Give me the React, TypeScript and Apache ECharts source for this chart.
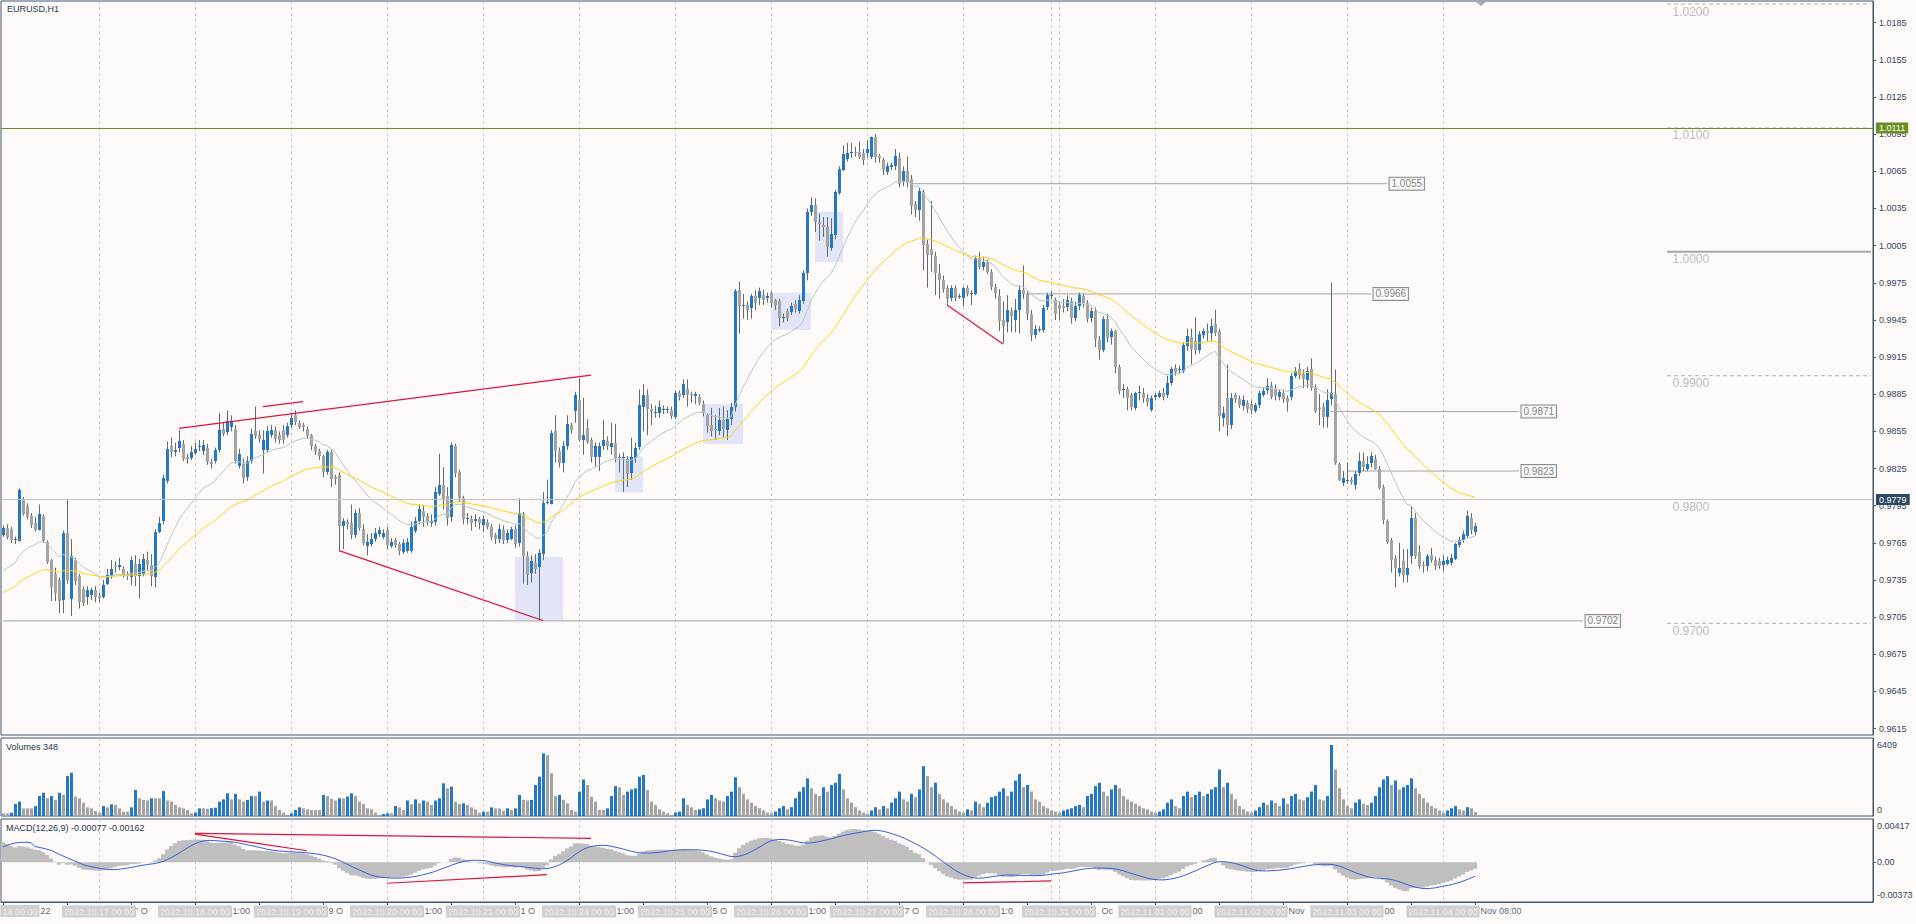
import React, { useEffect, useRef } from "react";
import * as echarts from "echarts";

// ---------- data (prices in 1/10000, e.g. 9779 = 0.9779) ----------
// hourly bars per trading day: [open, high, low, close, tickVolume]
const dayDates = ["2022.10.14", "2022.10.17", "2022.10.18", "2022.10.19", "2022.10.20", "2022.10.21", "2022.10.24", "2022.10.25", "2022.10.26", "2022.10.27", "2022.10.28", "2022.10.31", "2022.11.01", "2022.11.02", "2022.11.03", "2022.11.04"];
// visible part of the first date box (it is cut by the chart's left edge)
const firstBoxVisible = "14 00:00";
// visible remainder of the time-scale label that follows each day's date box
const timeFragments = ["22", "' O", "1:00", "9 O", "1:00", "1 O", "1:00", "5 O", "1:00", "7 O", "1:0", ". Oc", "00", "Nov", "00", "Nov 08:00"];

const oct14 = [[9771,9779,9770,9777,240],[9777,9780,9768,9770,240],[9776,9778,9765,9767,300],[9767,9770,9764,9768,1080],[9767,9809,9766,9808,1300],[9800,9802,9787,9789,690],[9795,9797,9784,9786,690],[9787,9789,9777,9780,690],[9781,9786,9774,9775,900],[9775,9796,9775,9788,1800],[9787,9788,9765,9767,2100],[9766,9767,9748,9750,1600],[9751,9752,9718,9729,1800],[9740,9745,9718,9725,1450],[9735,9737,9708,9718,2100],[9719,9775,9708,9773,1900],[9773,9800,9732,9735,3600],[9719,9768,9706,9754,3900],[9751,9753,9731,9734,1750],[9738,9740,9712,9717,1600],[9728,9730,9714,9717,1200],[9721,9730,9715,9727,780],[9723,9729,9719,9727,690],[9727,9730,9717,9721,450]];
const oct17 = [[9722,9725,9717,9720,300],[9721,9735,9720,9731,900],[9732,9744,9731,9739,780],[9738,9751,9736,9744,1050],[9746,9750,9741,9745,990],[9745,9753,9743,9747,690],[9744,9746,9737,9739,390],[9740,9742,9735,9738,390],[9737,9754,9731,9751,780],[9748,9755,9730,9738,2350],[9738,9752,9720,9748,1600],[9740,9756,9738,9752,1450],[9751,9758,9743,9747,1400],[9747,9756,9730,9738,1600],[9738,9776,9729,9774,1600],[9774,9786,9773,9781,1600],[9782,9820,9780,9817,2250],[9815,9847,9813,9841,1400],[9843,9850,9834,9838,1300],[9838,9846,9835,9840,1000],[9841,9856,9838,9847,780],[9845,9848,9831,9833,690],[9834,9837,9829,9832,540],[9833,9843,9832,9838,240]];
const oct18 = [[9838,9846,9836,9841,300],[9842,9848,9839,9843,690],[9839,9848,9836,9844,690],[9842,9845,9828,9831,650],[9830,9833,9825,9828,700],[9831,9842,9829,9840,750],[9840,9870,9838,9856,1300],[9857,9862,9851,9853,1500],[9854,9872,9852,9863,2050],[9858,9868,9855,9863,1500],[9857,9860,9829,9831,2000],[9827,9841,9825,9837,1500],[9829,9833,9813,9818,1300],[9818,9835,9815,9831,1450],[9831,9857,9829,9853,1800],[9855,9875,9849,9851,1800],[9852,9856,9846,9849,2200],[9840,9856,9821,9848,1300],[9840,9859,9838,9855,1400],[9852,9860,9850,9856,1400],[9856,9859,9846,9849,900],[9852,9855,9845,9848,540],[9856,9860,9845,9848,300],[9852,9862,9850,9859,100]];
const oct19 = [[9860,9870,9858,9866,240],[9868,9872,9860,9862,540],[9862,9864,9857,9859,780],[9860,9862,9855,9858,690],[9857,9859,9849,9851,600],[9852,9853,9840,9843,540],[9843,9845,9836,9839,540],[9839,9841,9832,9835,540],[9835,9836,9818,9822,1900],[9822,9840,9820,9838,1800],[9838,9840,9810,9816,1550],[9818,9820,9812,9816,1400],[9820,9822,9759,9779,1600],[9779,9785,9760,9783,1600],[9782,9784,9776,9780,1750],[9781,9796,9768,9771,2050],[9771,9792,9769,9789,1800],[9789,9793,9775,9777,1300],[9776,9780,9763,9765,1080],[9763,9772,9755,9766,690],[9764,9773,9762,9768,600],[9768,9777,9766,9773,300],[9772,9778,9770,9775,100],[9770,9776,9768,9773,180]];
const oct20 = [[9775,9778,9760,9763,240],[9763,9769,9761,9766,240],[9767,9769,9761,9763,900],[9764,9766,9755,9758,780],[9758,9768,9756,9765,540],[9759,9769,9757,9766,1400],[9759,9782,9757,9778,1080],[9775,9786,9773,9783,1500],[9782,9796,9780,9792,1150],[9791,9795,9778,9786,1400],[9787,9789,9779,9782,1300],[9781,9788,9778,9783,1000],[9782,9810,9779,9806,1400],[9805,9837,9803,9812,1600],[9812,9826,9792,9801,2950],[9803,9810,9779,9785,2500],[9786,9846,9782,9844,2650],[9843,9845,9818,9821,1300],[9822,9824,9798,9801,1080],[9801,9803,9780,9784,1150],[9784,9789,9780,9785,1000],[9784,9787,9775,9781,780],[9782,9788,9778,9784,600],[9784,9786,9776,9781,300]];
const oct21 = [[9779,9787,9774,9784,390],[9782,9784,9776,9778,390],[9778,9780,9767,9770,780],[9771,9773,9764,9768,690],[9768,9780,9765,9776,690],[9775,9779,9764,9767,480],[9767,9776,9765,9773,690],[9768,9778,9767,9776,540],[9776,9779,9761,9764,690],[9765,9801,9762,9789,1900],[9788,9790,9732,9754,1450],[9754,9758,9731,9739,1400],[9740,9755,9733,9750,1450],[9749,9756,9740,9744,2800],[9746,9760,9703,9757,3550],[9756,9806,9751,9797,5660],[9797,9816,9796,9798,5500],[9797,9856,9796,9854,3850],[9855,9868,9830,9839,1800],[9839,9842,9826,9829,1900],[9829,9847,9822,9843,1450],[9843,9868,9840,9861,1150],[9860,9862,9853,9856,540],[9871,9887,9862,9884,390]];
const oct24 = [[9880,9898,9847,9848,2200],[9848,9882,9836,9852,3300],[9858,9865,9845,9847,2800],[9848,9850,9830,9834,1750],[9834,9846,9826,9843,1300],[9834,9846,9823,9843,540],[9843,9864,9840,9848,540],[9847,9851,9840,9843,690],[9843,9862,9836,9846,1800],[9846,9861,9830,9834,2700],[9834,9837,9822,9833,2600],[9833,9838,9806,9834,1900],[9833,9835,9810,9821,2200],[9821,9850,9816,9834,2400],[9834,9846,9830,9842,2500],[9842,9889,9840,9876,3550],[9874,9893,9855,9884,3700],[9884,9889,9852,9873,2350],[9873,9877,9860,9871,1300],[9870,9876,9866,9871,1000],[9870,9880,9866,9875,600],[9872,9876,9869,9873,390],[9872,9875,9870,9873,240],[9872,9875,9865,9867,100]];
const oct25 = [[9867,9888,9865,9886,300],[9886,9888,9880,9883,390],[9884,9897,9882,9893,1600],[9889,9897,9875,9884,1000],[9885,9887,9878,9884,780],[9883,9887,9877,9885,540],[9883,9885,9876,9878,600],[9877,9880,9867,9870,700],[9868,9869,9854,9859,1500],[9860,9874,9851,9855,1900],[9857,9868,9848,9856,1600],[9855,9874,9852,9864,1400],[9864,9875,9850,9857,1300],[9856,9872,9848,9865,1800],[9865,9878,9860,9875,2200],[9874,9970,9871,9968,3500],[9969,9976,9934,9956,2600],[9956,9966,9946,9957,2000],[9957,9960,9945,9953,1500],[9954,9966,9946,9964,1200],[9964,9969,9953,9958,900],[9962,9971,9957,9968,700],[9965,9969,9957,9961,500],[9962,9967,9959,9964,300]];
const oct26 = [[9967,9968,9955,9959,250],[9961,9962,9953,9957,400],[9960,9962,9940,9946,700],[9946,9950,9943,9947,900],[9952,9954,9944,9946,600],[9951,9959,9949,9956,800],[9958,9961,9951,9954,1600],[9952,9965,9950,9961,2200],[9960,9985,9958,9983,2600],[9983,10035,9977,10032,3400],[10032,10044,10029,10038,2500],[10038,10043,10016,10024,2000],[10024,10031,10009,10022,1800],[10022,10028,10012,10020,2600],[10020,10028,9996,10004,2200],[10003,10027,10001,10014,2800],[10013,10050,10010,10048,3000],[10048,10069,10046,10067,3800],[10066,10086,10065,10079,2400],[10075,10088,10073,10080,1600],[10080,10088,10076,10081,1200],[10081,10085,10077,10080,800],[10081,10089,10075,10077,500],[10080,10083,10070,10074,300]];
const oct27 = [[10080,10090,10076,10083,200],[10077,10093,10075,10093,500],[10093,10095,10072,10077,800],[10077,10079,10072,10075,600],[10074,10076,10062,10066,900],[10064,10072,10062,10069,700],[10068,10072,10066,10070,1200],[10069,10083,10066,10077,1600],[10076,10080,10052,10055,2200],[10056,10069,10053,10065,1500],[10065,10077,10052,10055,1300],[10059,10062,10030,10037,2000],[10039,10041,10028,10034,1700],[10034,10052,10025,10049,2400],[10048,10050,9985,10005,4500],[10006,10010,9971,9997,3600],[10002,10041,9984,9997,2600],[9997,10000,9965,9983,3000],[9983,9990,9962,9977,2000],[9977,9981,9967,9970,1500],[9971,9973,9957,9962,1200],[9963,9973,9960,9971,900],[9971,9973,9960,9963,600],[9963,9966,9962,9964,400]];
const oct28 = [[9963,9972,9956,9971,300],[9971,9973,9964,9966,600],[9966,9969,9957,9967,500],[9966,9997,9965,9995,1300],[9995,10000,9986,9988,1100],[9988,9996,9985,9992,800],[9992,9994,9982,9984,1200],[9984,9986,9969,9972,1700],[9972,9974,9962,9967,1800],[9964,9970,9936,9944,2200],[9945,9960,9926,9940,2500],[9943,9965,9935,9953,1800],[9952,9955,9935,9948,2200],[9945,9962,9935,9953,3200],[9953,9973,9934,9969,3800],[9969,9989,9962,9966,2600],[9966,9968,9945,9950,2800],[9950,9953,9928,9933,2200],[9933,9941,9930,9938,1500],[9937,9940,9935,9938,1300],[9937,9957,9935,9955,900],[9955,9967,9953,9965,700],[9964,9968,9962,9965,500],[9961,9963,9945,9950,400]];
const oct31 = [[9957,9960,9945,9954,300],[9956,9962,9951,9954,500],[9955,9965,9952,9961,600],[9960,9963,9942,9946,700],[9946,9960,9944,9956,900],[9956,9967,9953,9965,1000],[9964,9966,9955,9958,800],[9959,9961,9943,9946,1800],[9946,9955,9943,9952,2000],[9952,9955,9923,9929,2700],[9929,9932,9913,9921,3000],[9921,9948,9919,9946,2200],[9946,9950,9927,9931,1800],[9931,9938,9925,9936,2400],[9936,9937,9902,9907,2800],[9907,9909,9885,9888,2500],[9888,9893,9882,9889,1800],[9889,9891,9872,9882,1500],[9884,9886,9872,9874,1300],[9874,9887,9872,9886,1100],[9886,9892,9880,9887,900],[9886,9890,9878,9882,700],[9882,9885,9875,9879,600],[9872,9884,9871,9882,400]];
const nov01 = [[9882,9886,9880,9884,300],[9883,9888,9882,9886,400],[9886,9890,9880,9883,600],[9884,9900,9882,9894,1200],[9894,9907,9892,9905,1500],[9906,9909,9900,9903,900],[9904,9908,9902,9905,700],[9904,9927,9902,9925,1800],[9924,9938,9920,9932,2200],[9931,9938,9909,9921,1700],[9928,9947,9917,9921,1900],[9921,9936,9918,9934,2200],[9933,9938,9930,9936,1800],[9936,9942,9928,9934,2000],[9934,9946,9928,9940,2400],[9942,9953,9932,9935,2600],[9936,9938,9855,9867,4200],[9866,9875,9859,9870,2600],[9882,9909,9851,9860,3000],[9860,9886,9857,9882,2000],[9884,9886,9878,9881,1500],[9881,9884,9874,9876,900],[9875,9884,9872,9880,600],[9878,9880,9870,9873,400]];
const nov02 = [[9877,9880,9869,9872,300],[9871,9878,9870,9876,500],[9876,9888,9874,9886,800],[9885,9890,9883,9888,1200],[9889,9898,9885,9892,1000],[9892,9895,9881,9883,1400],[9889,9893,9880,9883,1200],[9883,9889,9880,9887,900],[9886,9889,9878,9881,1600],[9882,9884,9871,9879,1100],[9883,9902,9880,9900,1800],[9900,9907,9898,9904,2000],[9905,9910,9897,9900,1500],[9901,9905,9890,9897,1400],[9897,9907,9890,9904,1700],[9905,9914,9888,9890,2200],[9891,9893,9870,9872,2800],[9874,9885,9860,9873,1500],[9875,9878,9858,9867,1400],[9866,9889,9858,9880,1800],[9881,9975,9876,9886,6409],[9885,9905,9828,9829,4200],[9829,9830,9815,9816,2500],[9813,9823,9811,9817,1500]];
const nov03 = [[9815,9830,9813,9816,900],[9816,9818,9812,9814,700],[9812,9823,9808,9821,1200],[9821,9838,9819,9831,1500],[9831,9838,9823,9826,1100],[9825,9835,9823,9829,1000],[9829,9838,9826,9835,1200],[9833,9836,9824,9825,1800],[9825,9827,9808,9810,2600],[9810,9812,9780,9783,3300],[9783,9784,9764,9766,3600],[9767,9769,9741,9751,2800],[9753,9755,9729,9745,3200],[9741,9765,9738,9745,2400],[9750,9760,9733,9739,2600],[9739,9760,9733,9745,2800],[9754,9794,9748,9785,3400],[9785,9789,9752,9754,2500],[9758,9763,9744,9747,2000],[9747,9750,9741,9746,1600],[9746,9756,9742,9754,1200],[9755,9761,9749,9751,900],[9751,9754,9743,9746,700],[9750,9753,9744,9746,500]];
const nov04 = [[9747,9755,9742,9750,300],[9748,9754,9747,9751,500],[9749,9756,9747,9753,700],[9752,9765,9751,9764,900],[9763,9770,9761,9767,600],[9767,9775,9765,9772,500],[9771,9791,9769,9787,800],[9785,9789,9772,9775,700],[9774,9781,9771,9779,348]];
const barsByDay = [oct14, oct17, oct18, oct19, oct20, oct21, oct24, oct25, oct26, oct27, oct28, oct31, nov01, nov02, nov03, nov04];

// axis tick labels
const priceTicks = [1.0185, 1.0155, 1.0125, 1.0095, 1.0065, 1.0035, 1.0005, 0.9975, 0.9945, 0.9915, 0.9885, 0.9855, 0.9825, 0.9795, 0.9765, 0.9735, 0.9705, 0.9675, 0.9645, 0.9615];
const volumeTicks = [6409, 0];
const macdTicks = [0.00417, 0, -0.00373];
const macdHeaderValues = [-0.00077, -0.00162];

// indicator values at the first visible bar
const emaFastSeed = 9742; // grey EMA(20)
const emaSlowSeed = 9725; // yellow EMA(50)
const macdEma12Seed = 9775;
const macdEma26Seed = 9752;
const signalWarm = [0.00179, 0.00195, 0.0021, 0.00222, 0.00226, 0.0023, 0.0023, 0.00226];

// drawn objects
const alertLevels = [1.0111, 0.9755];
const lastPrice = 0.9779;
const priceSegments = [[227, 346, 1.0055], [256, 342, 0.9966], [332, 379, 0.9871], [336, 379, 0.9823], [0, 395, 0.9702]];
const trendLines = [[44, 0.98575, 147, 0.99005], [65, 0.9875, 75, 0.9879], [84, 0.97587, 135, 0.97023], [236, 0.99571, 250, 0.99256]];
const macdTrendLines = [[48, 0.00333, 147, 0.00276], [48, 0.00325, 76, 0.00133], [96, -0.00241, 136, -0.00143], [240, -0.00238, 262, -0.00215]];
const zones = [[128, 140, 0.97535, 0.97024], [153, 160, 0.98347, 0.98056], [175, 185, 0.98771, 0.98448], [192, 202, 0.9967, 0.99369], [203, 210, 1.00324, 0.9992]];
const roundLevels = [1.02, 1.01, 1.0, 0.99, 0.98, 0.97];
const roundLevelStart = 416;
const extraSeparator = 262;

// ---------- styling ----------
const BG = "#fdfaf9";
const AXIS = "#3e5870";
const LABEL = "#33475d";
const BULL = "#2378c6";
const BEAR = "#a3a3a3";
const WICK = "#5c6d71";
const GREEN = "#6b8e23";
const FONT = "'Liberation Sans', 'DejaVu Sans', sans-serif";
const SLOTS = 468;

const pad = (n: number) => (n < 10 ? "0" + n : "" + n);

export default function App() {
  const ref = useRef<HTMLDivElement | null>(null);

  useEffect(() => {
    document.body.style.margin = "0";
    document.body.style.background = BG;
    if (!ref.current) return;
    const chart = echarts.init(ref.current, undefined, { renderer: "svg" });

    const bars: number[][] = [];
    barsByDay.forEach((day) => day.forEach((b) => bars.push(b)));
    const n = bars.length;
    const close = bars.map((b) => b[3]);
    const vols = bars.map((b) => b[4]);

    const categories: string[] = [];
    for (let i = 0; i < SLOTS; i++) {
      const d = Math.floor(i / 24);
      categories.push(i < n ? `${dayDates[d]} ${pad(i % 24)}:00` : `~${i}`);
    }

    const ema = (src: number[], seed: number, period: number) => {
      const k = 2 / (period + 1);
      const out = [seed];
      for (let i = 1; i < src.length; i++) out.push(out[i - 1] + k * (src[i] - out[i - 1]));
      return out;
    };
    const maFast = ema(close, emaFastSeed, 20);
    const maSlow = ema(close, emaSlowSeed, 50);
    const e12 = ema(close, macdEma12Seed, 12);
    const e26 = ema(close, macdEma26Seed, 26);
    const macd = e12.map((v, i) => (v - e26[i]) / 10000);
    const signal = macd.map((_, i) => {
      if (i < signalWarm.length) return signalWarm[i];
      let s = 0;
      for (let j = i - 8; j <= i; j++) s += macd[j];
      return s / 9;
    });

    const separators: number[] = [];
    for (let k = 1; k * 24 < n; k++) separators.push(k * 24);
    separators.push(extraSeparator);

    const PMIN = 0.960987, PMAX = 1.020252;
    const VMAX = 7041;
    const MMIN = -0.00457, MMAX = 0.00498;

    const sepSeries = (gi: number, y: number) => ({
      type: "custom",
      xAxisIndex: gi,
      yAxisIndex: gi,
      silent: true,
      z: 1,
      data: separators.map((b) => [b, y]),
      renderItem: (params: any, api: any) => {
        const cs = params.coordSys;
        const x = Math.round(api.coord([api.value(0), api.value(1)])[0]) + 0.5;
        return {
          type: "line",
          shape: { x1: x, y1: cs.y, x2: x, y2: cs.y + cs.height },
          style: { stroke: "#c9c9c9", lineWidth: 1, lineDash: [3, 3] },
        };
      },
    });

    const twoPointLine = (xi: number, yi: number, pts: number[][], color: string, width: number, z: number, dashed = false) => ({
      type: "line",
      xAxisIndex: xi,
      yAxisIndex: yi,
      data: pts,
      symbol: "none",
      silent: true,
      z,
      lineStyle: { color, width, type: dashed ? [4, 3] : "solid" },
    });

    const series: any[] = [];
    series.push(sepSeries(0, PMIN), sepSeries(1, 0), sepSeries(2, 0));

    // shaded zones
    series.push({
      type: "custom",
      xAxisIndex: 0,
      yAxisIndex: 0,
      silent: true,
      z: 1,
      data: zones,
      renderItem: (params: any, api: any) => {
        const a = api.coord([api.value(0), api.value(2)]);
        const b = api.coord([api.value(1), api.value(3)]);
        return {
          type: "rect",
          shape: { x: Math.round(a[0]), y: a[1], width: Math.round(b[0] - a[0]), height: b[1] - a[1] },
          style: { fill: "#e2e5f7" },
        };
      },
    });

    // labelled horizontal segments
    priceSegments.forEach((s) => {
      series.push(twoPointLine(0, 0, [[s[0], s[2]], [s[1], s[2]]], "#a3a3a3", 1, 2));
    });
    series.push({
      type: "scatter",
      xAxisIndex: 0,
      yAxisIndex: 0,
      silent: true,
      z: 6,
      symbolSize: 1,
      itemStyle: { color: "rgba(0,0,0,0)" },
      data: priceSegments.map((s) => [s[1], s[2]]),
      label: {
        show: true,
        position: "right",
        distance: 2,
        formatter: (p: any) => p.value[1].toFixed(4),
        backgroundColor: "#fefdfc",
        borderColor: "#707070",
        borderWidth: 1,
        padding: [1, 2, 0, 2],
        color: "#5a5a5a",
        fontSize: 10,
        lineHeight: 11,
        fontFamily: FONT,
      },
    });

    // round levels on the right
    roundLevels.forEach((lv) => {
      series.push(twoPointLine(0, 0, [[roundLevelStart, lv], [SLOTS - 1, lv]], lv === 1.0 ? "#a8a8a8" : "#b4b4b4", lv === 1.0 ? 2 : 1, 2, lv !== 1.0));
    });
    series.push({
      type: "scatter",
      xAxisIndex: 0,
      yAxisIndex: 0,
      silent: true,
      z: 6,
      symbolSize: 1,
      itemStyle: { color: "rgba(0,0,0,0)" },
      data: roundLevels.map((lv) => [roundLevelStart, lv]),
      label: {
        show: true,
        position: [6, 2],
        align: "left",
        verticalAlign: "top",
        formatter: (p: any) => p.value[1].toFixed(4),
        color: "#ababab",
        fontSize: 12,
        fontFamily: FONT,
      },
    });

    // candles
    series.push({
      type: "custom",
      xAxisIndex: 0,
      yAxisIndex: 0,
      silent: true,
      z: 3,
      clip: true,
      encode: { x: 0, y: [1, 2, 3, 4] },
      data: bars.map((b, i) => [i, b[0] / 10000, b[3] / 10000, b[2] / 10000, b[1] / 10000]),
      renderItem: (params: any, api: any) => {
        const i = api.value(0);
        const o = api.value(1), c = api.value(2), l = api.value(3), h = api.value(4);
        const po = api.coord([i, o]), pc = api.coord([i, c]), pl = api.coord([i, l]), ph = api.coord([i, h]);
        const x = Math.round(po[0]);
        const top = Math.round(Math.min(po[1], pc[1]));
        let hh = Math.round(Math.abs(po[1] - pc[1]));
        if (hh < 1) hh = 1;
        const up = c >= o;
        return {
          type: "group",
          children: [
            { type: "line", shape: { x1: x + 0.5, y1: Math.min(ph[1], top), x2: x + 0.5, y2: Math.max(pl[1], top + hh) }, style: { stroke: WICK, lineWidth: 1 } },
            { type: "rect", shape: { x: x - 1, y: top, width: 3, height: hh }, style: { fill: up ? BULL : BEAR } },
          ],
        };
      },
    });

    // moving averages
    series.push({
      type: "line", xAxisIndex: 0, yAxisIndex: 0, silent: true, z: 4, symbol: "none",
      data: maFast.map((v, i) => [i, v / 10000]),
      lineStyle: { color: "#b5c9c9", width: 1 },
      markLine: {
        silent: true,
        symbol: ["none", "none"],
        data: [
          ...alertLevels.map((lv) => ({
            yAxis: lv,
            lineStyle: { color: GREEN, width: 1, type: "solid" },
            label: { show: true, position: "end", distance: 3, formatter: lv.toFixed(4), backgroundColor: GREEN, color: "#ffffff", padding: [1, 3, 0, 3], fontSize: 9, lineHeight: 10, fontFamily: FONT },
          })),
          {
            yAxis: lastPrice,
            lineStyle: { color: "#c2c2c2", width: 1, type: "solid" },
            label: { show: true, position: "end", distance: 3, formatter: lastPrice.toFixed(4), backgroundColor: "#2d4a63", color: "#ffffff", padding: [1, 3, 0, 3], fontSize: 9, lineHeight: 10, fontFamily: FONT },
          },
        ],
      },
    });
    series.push({
      type: "line", xAxisIndex: 0, yAxisIndex: 0, silent: true, z: 4, symbol: "none",
      data: maSlow.map((v, i) => [i, v / 10000]),
      lineStyle: { color: "#ffd31a", width: 1 },
    });

    // trend lines
    trendLines.forEach((t) => series.push(twoPointLine(0, 0, [[t[0], t[1]], [t[2], t[3]]], "#dc143c", 1.2, 5)));

    // volumes
    series.push({
      type: "custom",
      xAxisIndex: 1,
      yAxisIndex: 1,
      silent: true,
      z: 3,
      encode: { x: 0, y: 1 },
      data: vols.map((v, i) => [i, v, i > 0 && v > vols[i - 1] ? 1 : 0]),
      renderItem: (params: any, api: any) => {
        const i = api.value(0);
        const p0 = api.coord([i, 0]);
        const p1 = api.coord([i, api.value(1)]);
        const x = Math.round(p0[0]);
        return {
          type: "rect",
          shape: { x: x - 1, y: p1[1], width: 3, height: p0[1] - p1[1] },
          style: { fill: api.value(2) ? BULL : BEAR },
        };
      },
    });

    // MACD histogram + signal
    series.push({
      type: "custom",
      xAxisIndex: 2,
      yAxisIndex: 2,
      silent: true,
      z: 3,
      encode: { x: 0, y: 1 },
      data: macd.map((v, i) => [i, v]),
      renderItem: (params: any, api: any) => {
        const i = api.value(0);
        const p0 = api.coord([i, 0]);
        const p1 = api.coord([i, api.value(1)]);
        const x = Math.round(p0[0]);
        return {
          type: "rect",
          shape: { x: x - 2, y: Math.min(p0[1], p1[1]), width: 4, height: Math.abs(p1[1] - p0[1]) },
          style: { fill: "#bfbfbf" },
        };
      },
    });
    series.push({
      type: "line", xAxisIndex: 2, yAxisIndex: 2, silent: true, z: 4, symbol: "none",
      data: signal.map((v, i) => [i, v]),
      lineStyle: { color: "#3a62dc", width: 1 },
    });
    macdTrendLines.forEach((t) => series.push(twoPointLine(2, 2, [[t[0], t[1]], [t[2], t[3]]], "#dc143c", 1.2, 5)));

    // time scale: date boxes at each day start, and the visible remainder of the time labels
    const boxLabel = {
      color: "#f6f6f6", backgroundColor: "#c5c5c5", padding: [1, 2, 0, 2], fontSize: 9, lineHeight: 11, fontFamily: FONT,
    };
    series.push({
      type: "scatter", xAxisIndex: 2, yAxisIndex: 2, silent: true, z: 8, clip: false,
      symbolSize: 1, itemStyle: { color: "rgba(0,0,0,0)" },
      data: dayDates.map((_, d) =>
        d === 0
          ? { value: [0, MMIN], label: { position: [37, 3.5], align: "right", verticalAlign: "top", formatter: firstBoxVisible } }
          : [d * 24, MMIN]
      ),
      label: {
        show: true, position: "bottom", distance: 3,
        formatter: (p: any) => categories[p.value[0]],
        ...boxLabel,
      },
    });
    series.push({
      type: "scatter", xAxisIndex: 2, yAxisIndex: 2, silent: true, z: 8, clip: false,
      symbolSize: 1, itemStyle: { color: "rgba(0,0,0,0)" },
      data: timeFragments.map((_, d) => [d * 24 + 9, MMIN]),
      label: {
        show: true, position: [2, 3], align: "left", verticalAlign: "top",
        formatter: (p: any) => timeFragments[p.dataIndex],
        color: "#1f3d5e", padding: [1, 0, 0, 0], fontSize: 9, lineHeight: 11, fontFamily: FONT,
      },
    });

    const xCat = (gi: number, ticks: boolean) => ({
      type: "category", gridIndex: gi, data: categories, boundaryGap: true,
      axisLine: { show: ticks, onZero: false, lineStyle: { color: AXIS } },
      axisTick: { show: ticks, alignWithLabel: true, length: 3, interval: (idx: number) => idx % 16 === 0 && idx < n, lineStyle: { color: AXIS } },
      axisLabel: { show: false },
      splitLine: { show: false },
    });

    const option: any = {
      animation: false,
      backgroundColor: BG,
      textStyle: { fontFamily: FONT },
      grid: [
        { left: 1, top: 1, width: 1872, height: 734, show: true, borderColor: AXIS, borderWidth: 1, backgroundColor: "transparent" },
        { left: 1, top: 738, width: 1872, height: 78, show: true, borderColor: AXIS, borderWidth: 1, backgroundColor: "transparent" },
        { left: 1, top: 819, width: 1872, height: 83, show: true, borderColor: AXIS, borderWidth: 1, backgroundColor: "transparent" },
      ],
      xAxis: [xCat(0, false), xCat(1, false), xCat(2, true)],
      yAxis: [
        {
          type: "value", gridIndex: 0, position: "right", min: PMIN, max: PMAX, scale: true,
          axisLine: { show: true, onZero: false, lineStyle: { color: AXIS } },
          axisTick: { show: true, length: 3, customValues: priceTicks, lineStyle: { color: AXIS } },
          axisLabel: { show: true, customValues: priceTicks, margin: 6, color: LABEL, fontSize: 9, fontFamily: FONT, formatter: (v: number) => v.toFixed(4) },
          splitLine: { show: false },
        },
        {
          type: "value", gridIndex: 1, position: "right", min: 0, max: VMAX,
          axisLine: { show: true, onZero: false, lineStyle: { color: AXIS } },
          axisTick: { show: false },
          axisLabel: {
            show: true, customValues: volumeTicks, margin: 4, color: LABEL, fontSize: 9, fontFamily: FONT,
            formatter: (v: number) => (v === 0 ? "{b|0}" : `{t|${v}}`),
            rich: { b: { padding: [0, 0, 12, 0], fontSize: 9, color: LABEL }, t: { fontSize: 9, color: LABEL } },
          },
          splitLine: { show: false },
        },
        {
          type: "value", gridIndex: 2, position: "right", min: MMIN, max: MMAX,
          axisLine: { show: true, onZero: false, lineStyle: { color: AXIS } },
          axisTick: { show: true, length: 3, customValues: [0], lineStyle: { color: AXIS } },
          axisLabel: { show: true, customValues: macdTicks, margin: 4, color: LABEL, fontSize: 9, fontFamily: FONT, formatter: (v: number) => (v === 0 ? "0.00" : v.toFixed(5)) },
          splitLine: { show: false },
        },
      ],
      graphic: [
        { type: "text", left: 7, top: 4, z: 10, style: { text: "EURUSD,H1", fill: "#243a52", fontSize: 9, fontFamily: FONT } },
        { type: "text", left: 6, top: 742, z: 10, style: { text: `Volumes ${vols[n - 1]}`, fill: "#243a52", fontSize: 9, fontFamily: FONT } },
        { type: "text", left: 6, top: 823, z: 10, style: { text: `MACD(12,26,9) ${macdHeaderValues[0].toFixed(5)} ${macdHeaderValues[1].toFixed(5)}`, fill: "#243a52", fontSize: 9, fontFamily: FONT } },
        { type: "polygon", z: 10, shape: { points: [[1475, 1], [1487, 1], [1481, 6]] }, style: { fill: "#a8a8a8" } },
      ],
      series,
    };

    chart.setOption(option);
    return () => chart.dispose();
  }, []);

  return <div ref={ref} style={{ width: 1916, height: 924, background: BG }} />;
}
